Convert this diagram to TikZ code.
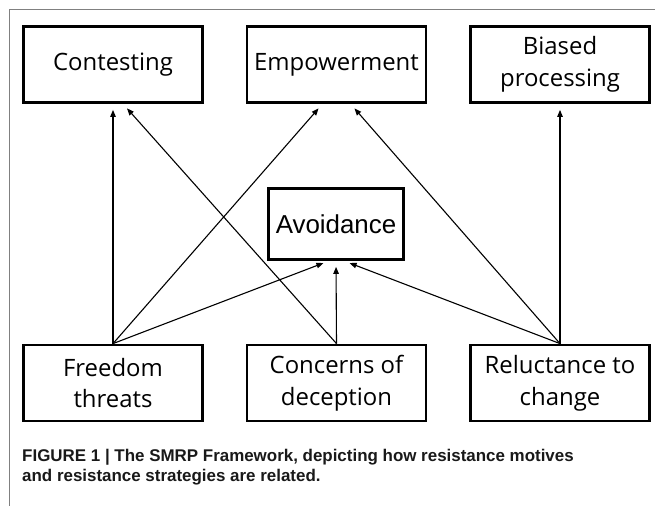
\documentclass[tikz,border=0pt]{standalone}
\usepackage{fontspec}
\setmainfont{Open Sans}
\newfontfamily\avfont{Liberation Sans}
\newfontfamily\capfont{Liberation Sans}
\usetikzlibrary{arrows.meta}

\begin{document}
\begin{tikzpicture}[x=1bp,y=-1bp,
    box/.style={draw,line width=2.8bp,minimum width=179bp,minimum height=76bp,
      align=center,inner sep=0pt,font=\fontsize{24}{32}\selectfont},
    link/.style={line width=1.1bp,-{Triangle[length=7bp,width=5.5bp]},shorten >=6bp}]
  \useasboundingbox (0,0) rectangle (655,506);
  % frame
  \draw[gray,line width=1.2bp] (655,9.5) -- (9.5,9.5) -- (9.5,506);
  % strategies
  \node[box] (cont) at (113,64.5) {Contesting};
  \node[box] (emp) at (336.5,64.5) {Empowerment};
  \node[box] (bias) at (560,64.5) {Biased\\processing};
  \node[box,minimum width=135bp,minimum height=71bp,font=\avfont\fontsize{26}{30}\selectfont]
    (avoid) at (336,224) {Avoidance};
  % motives
  \node[box] (free) at (113,383) {Freedom\\threats};
  \node[box] (conc) at (336.5,383) {Concerns of\\deception};
  \node[box] (rel) at (560,383) {Reluctance to\\change};
  % links
  \draw[link] (free.north) -- (cont.south);
  \draw[link] (free.north) -- ([xshift=-14bp]emp.south);
  \draw[link] (free.north) -- ([xshift=-7bp]avoid.south);
  \draw[link] (conc.north) -- ([xshift=10bp]cont.south);
  \draw[link] (conc.north) -- (avoid.south);
  \draw[link] (rel.north) -- ([xshift=8bp]avoid.south);
  \draw[link] (rel.north) -- ([xshift=14bp]emp.south);
  \draw[link] (rel.north) -- (bias.south);
  % caption
  \node[anchor=west,align=left,inner sep=0pt,text=black!90,
    font=\capfont\bfseries\fontsize{17}{20}\selectfont] (cap) at (22,467)
    {FIGURE 1 | The SMRP Framework, depicting how resistance motives\\
     and resistance strategies are related.};
\end{tikzpicture}
\end{document}
